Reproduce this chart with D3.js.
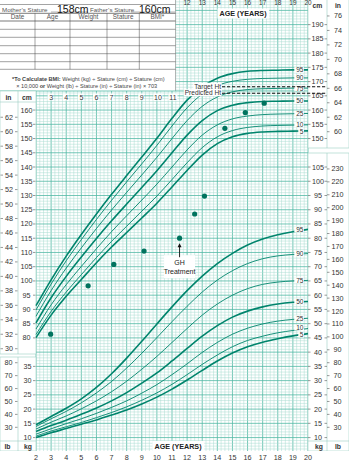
<!DOCTYPE html>
<html>
<head>
<meta charset="utf-8">
<script src="https://cdn.jsdelivr.net/npm/d3@7"></script>
<style>
  body { margin: 0; background: #fff; }
  svg { display: block; }
  text { font-family: "Liberation Sans", Arial, sans-serif; }
</style>
</head>
<body>
<svg id="chart" width="349" height="466"></svg>
<script>
// ---- Data -------------------------------------------------------------
const ages = [2,3,4,5,6,7,8,9,10,11,12,13,14,15,16,17,18,19,20];

// Stature-for-age percentiles (cm)
const statureP5  = [80.1,88.0,94.6,100.5,106.4,111.9,117.0,122.1,127.3,133.0,138.8,144.2,148.2,150.6,151.8,152.3,152.5,152.6,152.7];
const statureP10 = [81.2,89.3,96.1,102.2,108.2,113.9,119.2,124.5,129.8,135.6,141.5,146.8,150.6,152.8,153.9,154.4,154.6,154.7,154.8];
const statureP25 = [83.1,91.6,98.7,105.1,111.3,117.3,122.9,128.4,134.0,140.0,146.0,151.2,154.8,156.9,157.9,158.4,158.6,158.7,158.8];
const statureP50 = [85.3,94.1,101.6,108.4,114.9,121.1,127.0,132.8,138.7,145.0,151.2,156.3,159.8,161.7,162.6,163.0,163.1,163.2,163.2];
const statureP75 = [87.6,96.6,104.5,111.6,118.4,124.9,131.1,137.2,143.4,150.0,156.3,161.3,164.6,166.4,167.2,167.5,167.6,167.7,167.7];
const statureP90 = [89.8,98.9,107.1,114.5,121.6,128.3,134.8,141.1,147.6,154.4,160.8,165.6,168.6,170.1,170.8,171.1,171.2,171.3,171.3];
const statureP95 = [91.3,100.4,108.7,116.3,123.5,130.4,137.0,143.5,150.1,157.1,163.5,168.2,171.2,172.8,173.6,173.9,174.0,174.1,174.1];

// Weight-for-age percentiles (kg)
const weightP5  = [10.0,11.7,13.2,14.7,16.2,17.9,19.7,21.8,24.2,27.0,30.2,33.6,36.9,39.7,41.9,43.5,44.7,45.7,46.5];
const weightP10 = [10.5,12.3,13.8,15.3,17.0,18.8,20.8,23.1,25.7,28.7,32.1,35.7,39.0,41.9,44.1,45.6,46.8,47.6,48.3];
const weightP25 = [11.2,13.1,14.9,16.6,18.5,20.6,22.9,25.6,28.6,32.1,35.9,39.9,43.4,46.3,48.4,49.9,50.9,51.5,51.9];
const weightP50 = [12.1,14.2,16.1,18.2,20.4,22.9,25.8,29.1,32.7,36.9,41.3,45.6,49.3,52.3,54.4,55.9,56.9,57.5,57.8];
const weightP75 = [13.0,15.4,17.6,20.1,22.9,26.1,29.8,34.0,38.5,43.4,48.3,53.0,56.9,60.0,62.3,63.8,64.6,65.0,65.2];
const weightP90 = [13.9,16.6,19.2,22.2,25.7,29.7,34.4,39.6,45.1,50.7,56.1,61.1,65.3,68.6,71.1,72.8,73.8,74.3,74.6];
const weightP95 = [14.5,17.4,20.3,23.6,27.6,32.4,37.9,43.8,49.9,55.9,61.6,66.7,71.1,74.7,77.6,79.7,81.2,82.3,83.1];

const percentileNames = ["5","10","25","50","75","90","95"];
const boldPercentiles = ["5","50","95"];

// Patient measurements
const visitAges = [2.97,5.45,7.15,9.15,11.5,12.5,13.15,14.5,15.85,17.1];
const visitStature = [81.3,98.3,105.8,110.5,115.0,123.5,129.8,153.6,159.1,162.4];

// Reference heights (cm)
const targetHeight = 168.2;
const predictedHeight = 165.9;
const treatmentAge = 11.5;
const treatmentStature = 115.0;

// Record table
const motherStature = "158cm";
const fatherStature = "160cm";
const tableColumns = ["Date","Age","Weight","Stature","BMI*"];

// Tick labels
const ageTicks = d3.range(2, 21);
const leftInTicks = d3.range(30, 63, 2);
const leftCmTicks = d3.range(80, 161, 5);
const rightCmTicks = d3.range(150, 191, 5);
const rightInTicks = d3.range(60, 77, 2);
const leftLbTicks = d3.range(30, 81, 10);
const leftKgTicks = d3.range(10, 36, 5);
const rightKgTicks = d3.range(10, 106, 5);
const rightLbTicks = d3.range(30, 231, 10);

// ---- Scales -----------------------------------------------------------
const svg = d3.select("#chart");
const PX = 2.848;                       // pixels per cm (and per kg)
const x = d3.scaleLinear().domain([2, 20]).range([36, 308]);
const yS = d3.scaleLinear().domain([80, 190]).range([337.9, 337.9 - 110 * PX]);
const yW = d3.scaleLinear().domain([10, 105]).range([337.9 + 35 * PX, 337.9 - 60 * PX]);
const IN = 2.54, LB = 0.45359237;

const COL_MINOR = "#a9dcd1";
const COL_MAJOR = "#52b9a4";
const COL_CURVE = "#00846c";
const COL_TEXT = "#333";

const gridTop = 0, gridBottom = 451, tableRight = 175.5, tableBottom = 91;

// ---- Grid -------------------------------------------------------------
const grid = svg.append("g");
const vLines = d3.range(0, 73).map(k => 2 + k * 0.25);
grid.selectAll("line.v").data(vLines).join("line")
  .attr("x1", d => x(d)).attr("x2", d => x(d))
  .attr("y1", gridTop).attr("y2", gridBottom)
  .attr("stroke", d => Number.isInteger(d) ? COL_MAJOR : COL_MINOR)
  .attr("stroke-width", d => Number.isInteger(d) ? 0.8 : 0.5);

const hVals = d3.range(40, 200);
grid.selectAll("line.h").data(hVals).join("line")
  .attr("x1", x(2)).attr("x2", x(20))
  .attr("y1", d => yS(d)).attr("y2", d => yS(d))
  .attr("stroke", d => d % 5 === 0 ? COL_MAJOR : COL_MINOR)
  .attr("stroke-width", d => d % 5 === 0 ? 0.8 : 0.5);

// ---- Record table -----------------------------------------------------
const tbl = svg.append("g");
tbl.append("rect").attr("x", 0).attr("y", 0).attr("width", tableRight).attr("height", tableBottom).attr("fill", "#fff");
tbl.append("line").attr("x1", 0).attr("x2", tableRight).attr("y1", 4.5).attr("y2", 4.5).attr("stroke", "#666").attr("stroke-width", 0.6);
tbl.append("line").attr("x1", tableRight).attr("x2", tableRight).attr("y1", 0).attr("y2", tableBottom).attr("stroke", "#888").attr("stroke-width", 0.6);

tbl.append("text").attr("x", 2).attr("y", 11.5).attr("font-size", 6.2).attr("fill", "#555").text("Mother\u2019s Stature");
tbl.append("line").attr("x1", 51).attr("x2", 88).attr("y1", 12).attr("y2", 12).attr("stroke", "#666").attr("stroke-width", 0.5);
tbl.append("text").attr("x", 57).attr("y", 12.5).attr("font-size", 10.5).attr("font-family", "Lato, 'Open Sans', sans-serif").attr("fill", "#111").text(motherStature);
tbl.append("text").attr("x", 90).attr("y", 11.5).attr("font-size", 6.2).attr("fill", "#555").text("Father\u2019s Stature");
tbl.append("line").attr("x1", 131).attr("x2", 175).attr("y1", 12).attr("y2", 12).attr("stroke", "#666").attr("stroke-width", 0.5);
tbl.append("text").attr("x", 139).attr("y", 12.5).attr("font-size", 10.5).attr("font-family", "Lato, 'Open Sans', sans-serif").attr("fill", "#111").text(fatherStature);

const colEdges = [0, 35, 70, 107, 139.3, tableRight];
const rowEdges = [13.3, 21, 29.3, 37.3, 45.7, 53.7, 61.7, 69.3];
tbl.selectAll("line.row").data(rowEdges).join("line")
  .attr("x1", 0).attr("x2", tableRight)
  .attr("y1", d => d).attr("y2", d => d)
  .attr("stroke", "#444").attr("stroke-width", d => d === 13.3 || d === 21 ? 0.7 : 0.5);
tbl.selectAll("line.col").data(colEdges.slice(1, 5)).join("line")
  .attr("x1", d => d).attr("x2", d => d)
  .attr("y1", 13.3).attr("y2", 69.3)
  .attr("stroke", "#444").attr("stroke-width", 0.5);
tbl.selectAll("text.col").data(tableColumns).join("text")
  .attr("x", (d, i) => (colEdges[i] + colEdges[i + 1]) / 2)
  .attr("y", 19.3).attr("text-anchor", "middle")
  .attr("font-size", 6.4).attr("fill", "#555").text(d => d);

const note1 = tbl.append("text").attr("x", 88.3).attr("y", 81).attr("text-anchor", "middle")
  .attr("font-size", 5.6).attr("fill", "#444");
note1.append("tspan").attr("font-weight", "bold").text("*To Calculate BMI:");
note1.append("tspan").text(" Weight (kg) \u00f7 Stature (cm) \u00f7 Stature (cm)");
const note2 = tbl.append("text").attr("x", 86.7).attr("y", 88).attr("text-anchor", "middle")
  .attr("font-size", 5.6).attr("fill", "#444");
note2.append("tspan").text("\u00d7 10,000 ");
note2.append("tspan").attr("font-weight", "bold").text("or");
note2.append("tspan").text(" Weight (lb) \u00f7 Stature (in) \u00f7 Stature (in) \u00d7 703");
tbl.append("line").attr("x1", 0).attr("x2", x(20)).attr("y1", tableBottom).attr("y2", tableBottom).attr("stroke", "#52b9a4").attr("stroke-width", 0.8);

// ---- Axis columns -----------------------------------------------------
const axes = svg.append("g");
function box(x0, y0, w, h) {
  axes.append("rect").attr("x", x0).attr("y", y0).attr("width", w).attr("height", h)
    .attr("fill", "#fff").attr("stroke", "#9ccfc4").attr("stroke-width", 0.6);
}
box(0, tableBottom, 36, 263);   // left stature column
box(0, 357, 36, 94);            // left weight column
box(308, -1, 41, 149);          // right stature column
box(308, 153, 41, 298);         // right weight column
[[18, tableBottom, 354], [18, 357, 451]].forEach(([xx, a, b]) =>
  axes.append("line").attr("x1", xx).attr("x2", xx).attr("y1", a).attr("y2", b).attr("stroke", "#9ccfc4").attr("stroke-width", 0.6));
[[327, 0, 148], [327, 153, 451]].forEach(([xx, a, b]) =>
  axes.append("line").attr("x1", xx).attr("x2", xx).attr("y1", a).attr("y2", b).attr("stroke", "#9ccfc4").attr("stroke-width", 0.6));
axes.append("line").attr("x1", 0).attr("x2", 36).attr("y1", 102).attr("y2", 102).attr("stroke", "#9ccfc4").attr("stroke-width", 0.6);
axes.append("line").attr("x1", 0).attr("x2", 36).attr("y1", 441).attr("y2", 441).attr("stroke", "#9ccfc4").attr("stroke-width", 0.6);
axes.append("line").attr("x1", 308).attr("x2", 349).attr("y1", 441).attr("y2", 441).attr("stroke", "#9ccfc4").attr("stroke-width", 0.6);

function label(xx, yy, t, opts = {}) {
  return axes.append("text").attr("x", xx).attr("y", yy)
    .attr("text-anchor", opts.anchor || "middle")
    .attr("dominant-baseline", "central")
    .attr("font-size", opts.size || 7.2)
    .attr("font-weight", opts.weight || "normal")
    .attr("fill", COL_TEXT).text(t);
}
function tick(x1, x2, yy) {
  axes.append("line").attr("x1", x1).attr("x2", x2).attr("y1", yy).attr("y2", yy)
    .attr("stroke", "#555").attr("stroke-width", 0.6);
}

label(8.5, 97, "in", { weight: "bold", size: 6.8 });
label(27, 97, "cm", { weight: "bold", size: 6.8 });
leftInTicks.forEach(v => { const yy = yS(v * IN); label(9, yy, v); tick(0.5, 3, yy); tick(15, 17.5, yy); });
leftCmTicks.forEach(v => { const yy = yS(v); label(26.5, yy, v); tick(33, 35.5, yy); });

label(317.5, 5, "cm", { weight: "bold", size: 6.8 });
label(338, 5, "in", { weight: "bold", size: 6.8 });
rightCmTicks.forEach(v => { const yy = yS(v); label(317.5, yy, v); tick(308, 310.5, yy); tick(324.5, 327, yy); });
rightInTicks.forEach(v => { const yy = yS(v * IN); label(338, yy, v); tick(327, 329.5, yy); });

leftLbTicks.forEach(v => { const yy = yW(v * LB); label(8.5, yy, v); tick(15, 17.5, yy); });
leftKgTicks.forEach(v => { const yy = yW(v); label(27.5, yy, v); tick(33, 35.5, yy); });
rightKgTicks.forEach(v => { const yy = yW(v); label(318, yy, v); tick(308, 310.5, yy); tick(324.5, 327, yy); });
rightLbTicks.forEach(v => { const yy = yW(v * LB); label(337.5, yy, v); tick(327, 329.5, yy); });

label(7.5, 446, "lb", { weight: "bold", size: 6.8 });
label(28, 446, "kg", { weight: "bold", size: 6.8 });
label(319, 446, "kg", { weight: "bold", size: 6.8 });
label(338, 446, "lb", { weight: "bold", size: 6.8 });

// Age tick labels
const ageAxis = svg.append("g");
ageAxis.append("rect").attr("x", 0).attr("y", gridBottom).attr("width", 349).attr("height", 15).attr("fill", "#fff");
ageTicks.forEach(a => {
  ageAxis.append("text").attr("x", x(a)).attr("y", 457.5).attr("text-anchor", "middle")
    .attr("dominant-baseline", "central").attr("font-size", 7.2).attr("fill", COL_TEXT).text(a);
});
ageTicks.filter(a => a >= 3 && a <= 11).forEach(a => {
  ageAxis.append("rect").attr("x", x(a) - 3.5).attr("y", 93.5).attr("width", a >= 10 ? 9 : 5.5).attr("height", 7).attr("fill", "#fff");
  ageAxis.append("text").attr("x", x(a) + (a >= 10 ? 1 : 0)).attr("y", 97.2).attr("text-anchor", "middle")
    .attr("dominant-baseline", "central").attr("font-size", 7).attr("fill", COL_TEXT).text(a);
});
ageTicks.filter(a => a >= 12).forEach(a => {
  ageAxis.append("text").attr("x", x(a)).attr("y", 2.6).attr("text-anchor", "middle")
    .attr("dominant-baseline", "central").attr("font-size", 6.4).attr("fill", COL_TEXT).text(a);
});

function titleBox(cx, cy, t) {
  const g = svg.append("g");
  const txt = g.append("text").attr("x", cx).attr("y", cy).attr("text-anchor", "middle")
    .attr("dominant-baseline", "central").attr("font-size", 7.2).attr("font-weight", "bold")
    .attr("fill", "#222").text(t);
  const bb = txt.node().getBBox();
  g.insert("rect", "text").attr("x", bb.x - 2).attr("y", bb.y - 0.5).attr("width", bb.width + 4).attr("height", bb.height + 1).attr("fill", "#fff");
}

// ---- Percentile curves ------------------------------------------------
const curves = svg.append("g");
const statureSeries = [statureP5, statureP10, statureP25, statureP50, statureP75, statureP90, statureP95];
const weightSeries = [weightP5, weightP10, weightP25, weightP50, weightP75, weightP90, weightP95];

// small vertical nudges (px) keep the crowded end labels apart
function drawSet(series, yScale, nudge) {
  const line = d3.line().x((d, i) => x(ages[i])).y(d => yScale(d)).curve(d3.curveMonotoneX);
  series.forEach((vals, k) => {
    const bold = boldPercentiles.includes(percentileNames[k]);
    curves.append("path").attr("d", line(vals)).attr("fill", "none")
      .attr("stroke", COL_CURVE).attr("stroke-width", bold ? 1.6 : 0.9);
  });
  series.forEach((vals, k) => {
    const yy = yScale(vals[vals.length - 1]) + (nudge[k] || 0);
    const name = percentileNames[k];
    const w = name.length * 4 + 1.2;
    curves.append("rect").attr("x", 303.5 - w).attr("y", yy - 2.8).attr("width", w + 0.5).attr("height", 5.6).attr("fill", "#fff");
    curves.append("text").attr("x", 303.5).attr("y", yy).attr("text-anchor", "end")
      .attr("dominant-baseline", "central").attr("font-size", 6.6).attr("fill", COL_TEXT).text(name);
  });
}
drawSet(statureSeries, yS, [0.6, -0.4, 0, 0, 0, 0, 0]);
drawSet(weightSeries, yW, [1.1, -0.9, 0, 0, 0, 0, 0]);

titleBox(243, 13.5, "AGE (YEARS)");
titleBox(178, 446, "AGE (YEARS)");

// ---- Target / predicted height ---------------------------------------
const ref = svg.append("g");
[[targetHeight, "Target Ht"], [predictedHeight, "Predicted Ht"]].forEach(([h, t]) => {
  const yy = yS(h);
  ref.append("line").attr("x1", 222).attr("x2", 326).attr("y1", yy).attr("y2", yy)
    .attr("stroke", "#111").attr("stroke-width", 1.1).attr("stroke-dasharray", "3.2,1.8");
  const txt = ref.append("text").attr("x", 221).attr("y", yy - 0.5).attr("text-anchor", "end")
    .attr("dominant-baseline", "central").attr("font-size", 6.6).attr("fill", "#333").text(t);
  const bb = txt.node().getBBox();
  ref.insert("rect", "text").attr("x", bb.x - 1).attr("y", bb.y).attr("width", bb.width + 1.5).attr("height", bb.height).attr("fill", "#fff");
});

// ---- Measurements -----------------------------------------------------
svg.append("g").selectAll("circle").data(visitAges).join("circle")
  .attr("cx", d => x(d)).attr("cy", (d, i) => yS(visitStature[i]))
  .attr("r", 2.6).attr("fill", "#00735e");

// ---- GH treatment annotation -----------------------------------------
const ann = svg.append("g");
const ax = x(treatmentAge), ay = yS(treatmentStature);
ann.append("rect").attr("x", ax - 15.5).attr("y", ay + 17).attr("width", 31).attr("height", 23).attr("fill", "#fff");
ann.append("line").attr("x1", ax).attr("x2", ax).attr("y1", ay + 19).attr("y2", ay + 8).attr("stroke", "#111").attr("stroke-width", 0.9);
ann.append("path").attr("d", `M${ax - 2},${ay + 9} L${ax},${ay + 5} L${ax + 2},${ay + 9} Z`).attr("fill", "#111");
ann.append("text").attr("x", ax).attr("y", ay + 24.5).attr("text-anchor", "middle").attr("dominant-baseline", "central")
  .attr("font-size", 7).attr("fill", "#222").text("GH");
ann.append("text").attr("x", ax).attr("y", ay + 33.5).attr("text-anchor", "middle").attr("dominant-baseline", "central")
  .attr("font-size", 7).attr("fill", "#222").text("Treatment");
</script>
</body>
</html>
